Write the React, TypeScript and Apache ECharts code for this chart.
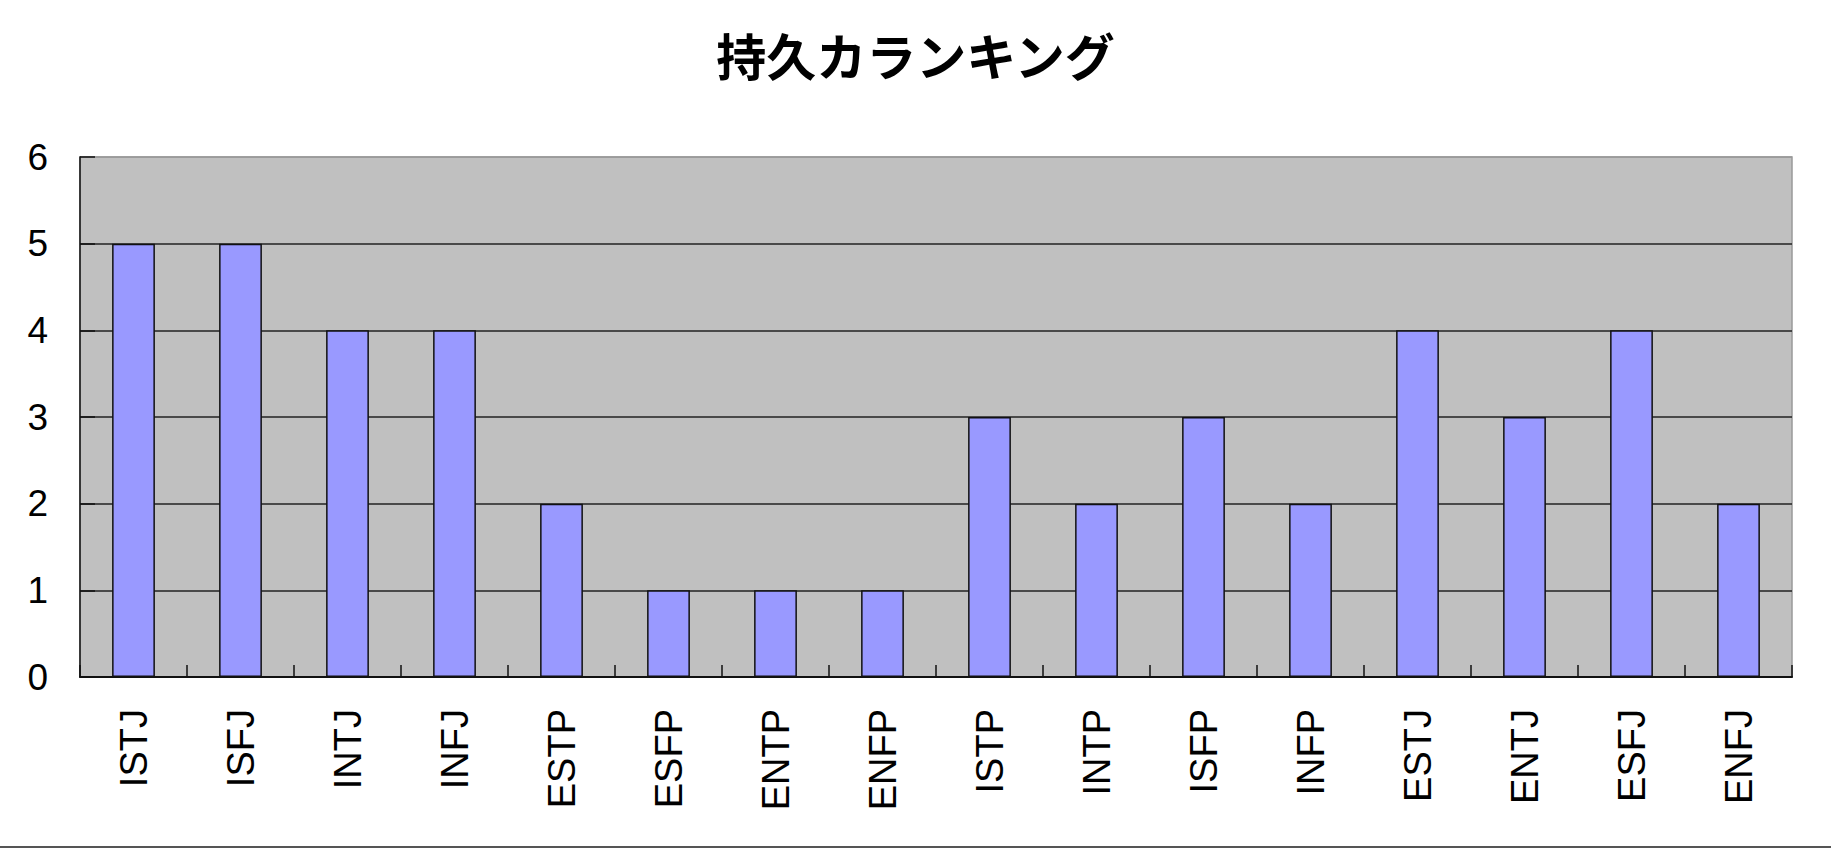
import React, { useEffect, useRef } from "react";
import * as echarts from "echarts";

const title = "持久カランキング";
const categories = [
  "ISTJ", "ISFJ", "INTJ", "INFJ", "ESTP", "ESFP", "ENTP", "ENFP",
  "ISTP", "INTP", "ISFP", "INFP", "ESTJ", "ENTJ", "ESFJ", "ENFJ",
];
const values = [5, 5, 4, 4, 2, 1, 1, 1, 3, 2, 3, 2, 4, 3, 4, 2];
const yMin = 0;
const yMax = 6;
const yStep = 1;

export default function App() {
  const ref = useRef<HTMLDivElement>(null);
  useEffect(() => {
    if (!ref.current) return;
    const chart = echarts.init(ref.current, null, { renderer: "svg" });
    chart.setOption({
      animation: false,
      backgroundColor: "#ffffff",
      title: {
        text: title,
        left: "center",
        top: 24,
        textStyle: {
          fontFamily: "Noto Sans CJK JP",
          fontWeight: "bold",
          fontSize: 50,
          color: "#000",
        },
      },
      grid: {
        left: 80,
        right: 39,
        top: 157,
        bottom: 173,
        show: true,
        backgroundColor: "#c0c0c0",
        borderColor: "#999999",
        borderWidth: 1.5,
      },
      xAxis: {
        type: "category",
        data: categories,
        axisLine: { show: true, lineStyle: { color: "#111", width: 2 } },
        axisTick: {
          show: true,
          inside: true,
          length: 12,
          alignWithLabel: false,
          lineStyle: { color: "#111", width: 1.5 },
        },
        axisLabel: {
          interval: 0,
          rotate: 90,
          margin: 32,
          fontFamily: "Liberation Sans",
          fontSize: 38,
          color: "#000",
        },
      },
      yAxis: {
        type: "value",
        min: yMin,
        max: yMax,
        interval: yStep,
        axisLine: { show: true, lineStyle: { color: "#111", width: 1.5 } },
        axisTick: {
          show: true,
          inside: true,
          length: 15,
          lineStyle: { color: "#111", width: 1.5 },
        },
        axisLabel: {
          margin: 32,
          fontFamily: "Liberation Sans",
          fontSize: 37,
          color: "#000",
        },
        splitLine: {
          show: true,
          lineStyle: {
            color: ["#222", "#222", "#222", "#222", "#222", "#222", "#999"],
            width: 1.5,
          },
        },
      },
      graphic: [
        {
          type: "line",
          shape: { x1: 0, y1: 847, x2: 1831, y2: 847 },
          style: { stroke: "#555", lineWidth: 2 },
        },
      ],
      series: [
        {
          type: "bar",
          data: values,
          barWidth: "40%",
          itemStyle: {
            color: "#9999ff",
            borderColor: "#111",
            borderWidth: 1.5,
          },
        },
      ],
    });
    return () => chart.dispose();
  }, []);
  return (
    <div
      ref={ref}
      style={{ position: "fixed", left: 0, top: 0, width: 1831, height: 850 }}
    />
  );
}
